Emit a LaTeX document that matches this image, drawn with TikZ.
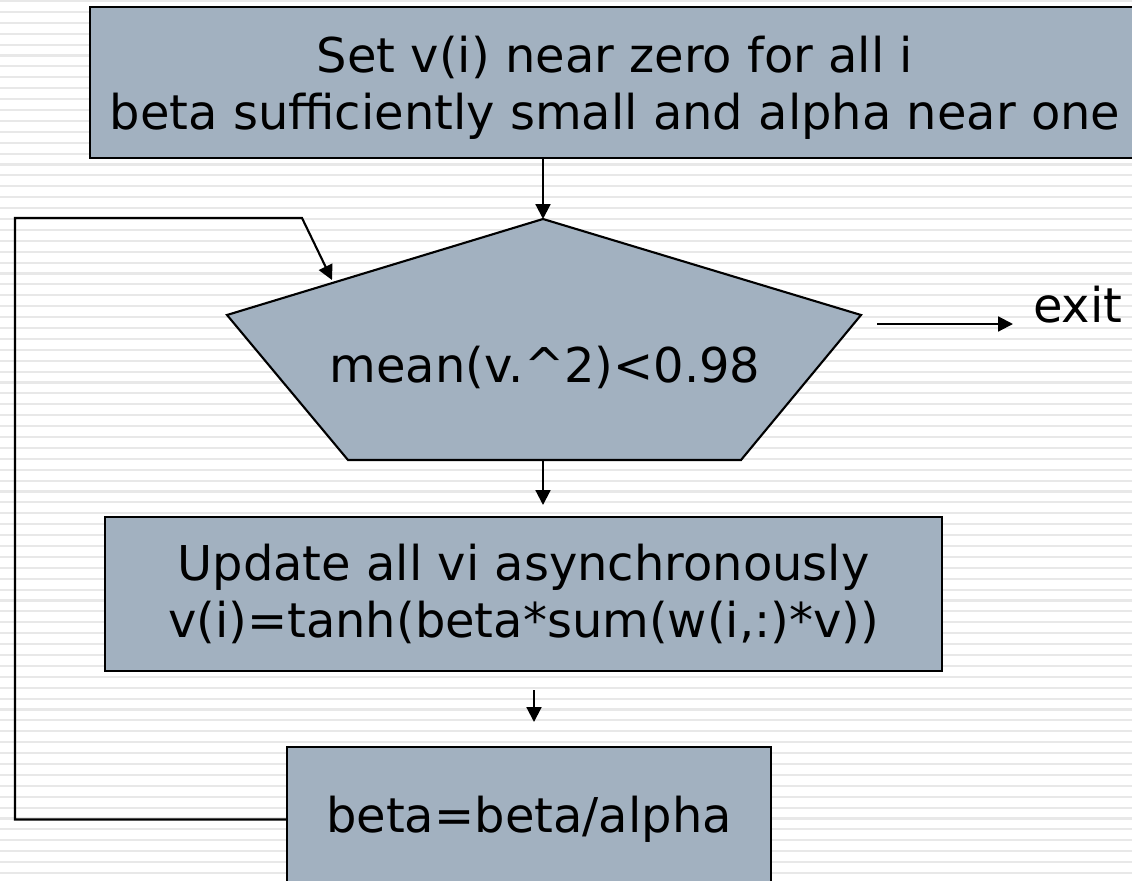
\documentclass[tikz,border=0pt]{standalone}
\usepackage{fontspec}
\setmainfont{DejaVu Sans}
\usetikzlibrary{arrows.meta,positioning,calc}
\definecolor{boxfill}{RGB}{162,177,192}
\definecolor{stripe}{RGB}{232,232,232}

\begin{document}
\begin{tikzpicture}[x=0.025cm,y=-0.025cm,
  blk/.style={draw=black,line width=1.5pt,fill=boxfill,inner sep=0pt,align=center},
  txt/.style={font=\fontsize{34.1pt}{40.5pt}\selectfont},
  arr/.style={-{Triangle[length=10.5pt,width=10.5pt]},line width=1.5pt}]
  \clip (0,0) rectangle (1132,881);

  % striped background
  \fill[white] (0,0) rectangle (1132,881);
  \foreach \k in {0,...,80}
    \draw[stripe,line width=1.5pt] (0,1+10.9*\k) -- (1132,1+10.9*\k);

  % init box
  \node[blk,txt,text depth=0pt,minimum width=26.25cm,minimum height=3.775cm] (init) at (615,82.5)
    {Set v(i) near zero for all i\\beta sufficiently small and alpha near one};

  % test
  \coordinate (apex) at (543,219);
  \coordinate (pbot) at (543,460);
  \draw[line width=1.5pt,fill=boxfill] (apex) -- (861,315) -- (741,460) -- (348,460) -- (227,315) -- cycle;
  \node[txt] (test) at (545,367) {mean(v.\textasciicircum 2)<0.98};

  % update box
  \node[blk,txt,minimum width=20.925cm,minimum height=3.85cm] (upd) at (523.5,594)
    {Update all vi asynchronously\\v(i)=tanh(beta*sum(w(i,:)*v))};

  % beta box
  \node[blk,txt,minimum width=12.1cm,minimum height=3.625cm] (scale) at (529,819.5) {beta=beta/alpha};

  % exit
  \coordinate (xout) at (877,324);
  \node[txt,inner xsep=14.2pt,inner ysep=0pt,anchor=base west] (exit) at (1013,322) {exit};

  % arrows
  \coordinate (a2) at (543,505);
  \coordinate (a3s) at (534,690);
  \coordinate (a3e) at (534,722);
  \coordinate (lft) at (15,218);
  \coordinate (corner) at (302,218);
  \coordinate (loopin) at (332,280);
  \draw[arr] (init.south -| apex) -- (apex);
  \draw[arr] (pbot) -- (a2);
  \draw[arr] (a3s) -- (a3e);
  \draw[arr] (scale.west) -| (lft) -- (corner) -- (loopin);
  \draw[arr] (xout) -- (xout -| exit.west);
\end{tikzpicture}
\end{document}
